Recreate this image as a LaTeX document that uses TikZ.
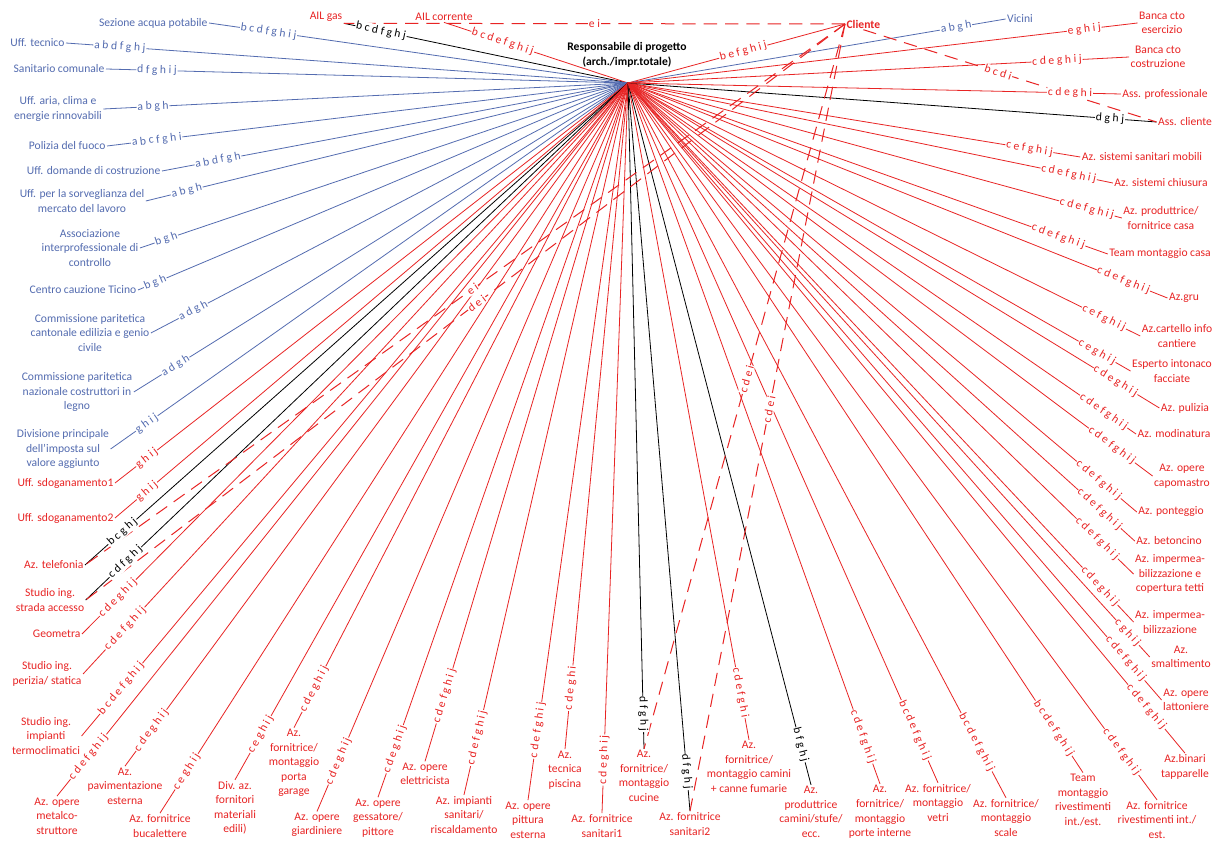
\documentclass[tikz,border=0pt]{standalone}
\usepackage{fontspec}
\setmainfont{Carlito}
\usetikzlibrary{calc}
\pgfdeclarelayer{back}
\pgfdeclarelayer{bg}
\pgfsetlayers{back,bg,main}
\definecolor{cred}{RGB}{232,36,36}
\definecolor{cblue}{RGB}{84,108,176}
\newcommand\fs{\fontsize{8.7}{10.9}\selectfont}
% #1 colour, #2 end point, #3 label, #4 label centre (projected on the line)
\newcommand\lnk[4]{%
  \begin{pgfonlayer}{bg}\draw[ln,draw=#1] (H) -- (#2);\end{pgfonlayer}
  \path ($(#2)!#4!(H)$) -- (#2) node[lbl,text=#1,pos=0,sloped]{#3};}
% dashed: #1 from, #2 to, #3 label, #4 pos
\newcommand\dlnk[4]{%
  \begin{pgfonlayer}{bg}\draw[dln] (#1) -- (#2);\end{pgfonlayer}
  \path (#1) -- (#2) node[lbl,text=cred,pos=#4,sloped]{#3};}
\begin{document}
\begin{tikzpicture}[x=0.75pt,y=-0.75pt,
  ln/.style={line width=0.6pt},
  dln/.style={draw=cred,line width=0.75pt,dash pattern=on 10pt off 6pt},
  lbl/.style={font=\fs,fill=white,inner sep=0.6pt},
  tb/.style={font=\fs,text=cblue,align=center,inner sep=1pt},
  tr/.style={font=\fs,text=cred,align=center,inner sep=1pt}]
\useasboundingbox (0,0) rectangle (1222,841);
\begin{pgfonlayer}{back}\fill[white] (0,0) rectangle (1222,841);\end{pgfonlayer}

\coordinate (H) at (628,83);
\node[font=\fs\bfseries,align=center,inner sep=1pt] (resp) at (627,55) {Responsabile di progetto\\(arch./impr.totale)};

% top
\node[tr] (ailgas) at (326,17) {AIL gas};
\node[tr] (ailcorr) at (444,17) {AIL corrente};
\node[tr,font=\fs\bfseries,anchor=west] (cliente) at (845,24) {Cliente};

% left blue
\node[tb,anchor=east] (sez) at (209,23) {Sezione acqua potabile};
\node[tb,anchor=east] (tec) at (66,43) {Uff. tecnico};
\node[tb,anchor=east] (san) at (106,69) {Sanitario comunale};
\node[tb] (aria) at (58,109) {Uff. aria, clima e\\energie rinnovabili};
\node[tb,anchor=east] (pol) at (107,146) {Polizia del fuoco};
\node[tb,anchor=east] (dom) at (162,171) {Uff. domande di costruzione};
\node[tb] (sorv) at (82,201) {Uff. per la sorveglianza del\\mercato del lavoro};
\node[tb] (assoc) at (90,248) {Associazione\\interprofessionale di\\controllo};
\node[tb,anchor=east] (centro) at (138,290) {Centro cauzione Ticino};
\node[tb] (ccant) at (90,333) {Commissione paritetica\\cantonale edilizia e genio\\civile};
\node[tb] (cnaz) at (77,392) {Commissione paritetica\\nazionale costruttori in\\legno};
\node[tb] (iva) at (63,449) {Divisione principale\\dell’imposta sul\\valore aggiunto};

% left red
\node[tr,anchor=east] (sd1) at (115,483) {Uff. sdoganamento1};
\node[tr,anchor=east] (sd2) at (115,518) {Uff. sdoganamento2};
\node[tr,anchor=east] (tel) at (85,565) {Az. telefonia};
\node[tr] (strada) at (50,600) {Studio ing.\\strada accesso};
\node[tr,anchor=east] (geo) at (82,634) {Geometra};
\node[tr] (perizia) at (47,674) {Studio ing.\\perizia/ statica};
\node[tr] (impianti) at (46,736) {Studio ing.\\impianti\\termoclimatici};

% bottom
\node[tr] (metalco) at (57,816) {Az. opere\\metalco-\\struttore};
\node[tr] (pavim) at (125,786) {Az.\\pavimentazione\\esterna};
\node[tr] (bucal) at (160,826) {Az. fornitrice\\bucalettere};
\node[tr] (divaz) at (235,808) {Div. az.\\fornitori\\materiali\\edili)};
\node[tr] (garage) at (294,763) {Az.\\fornitrice/\\montaggio\\porta\\garage};
\node[tr] (giard) at (317,825) {Az. opere\\giardiniere};
\node[tr] (gessa) at (378,818) {Az. opere\\gessatore/\\pittore};
\node[tr] (elettr) at (425,774) {Az. opere\\elettricista};
\node[tr] (idro) at (464,815) {Az. impianti\\sanitari/\\riscaldamento};
\node[tr] (pittura) at (528,820) {Az. opere\\pittura\\esterna};
\node[tr] (piscina) at (565,770) {Az.\\tecnica\\piscina};
\node[tr] (san1) at (602,826) {Az. fornitrice\\sanitari1};
\node[tr] (cucine) at (644,776) {Az.\\fornitrice/\\montaggio\\cucine};
\node[tr] (san2) at (690,824) {Az. fornitrice\\sanitari2};
\node[tr] (camini) at (749,767) {Az.\\fornitrice/\\montaggio camini\\+ canne fumarie};
\node[tr] (stufe) at (811,812) {Az.\\produttrice\\camini/stufe/\\ecc.};
\node[tr] (porte) at (880,812) {Az.\\fornitrice/\\montaggio\\porte interne};
\node[tr] (vetri) at (938,803) {Az. fornitrice/\\montaggio\\vetri};
\node[tr] (scale) at (1006,818) {Az. fornitrice/\\montaggio\\scale};
\node[tr] (team2) at (1083,800) {Team\\montaggio\\rivestimenti\\int./est.};
\node[tr] (rivest) at (1157,820) {Az. fornitrice\\rivestimenti int./\\est.};

% right
\node[tr] (binari) at (1185,767) {Az.binari\\tapparelle};
\node[tr] (latton) at (1186,700) {Az. opere\\lattoniere};
\node[tr] (smalt) at (1181,657) {Az.\\smaltimento};
\node[tr] (imp2) at (1170,622) {Az. impermea-\\bilizzazione};
\node[tr] (imp1) at (1170,574) {Az. impermea-\\bilizzazione e\\copertura tetti};
\node[tr] (beton) at (1169,541) {Az. betoncino};
\node[tr] (ponteg) at (1171,512) {Az. ponteggio};
\node[tr] (capom) at (1182,476) {Az. opere\\capomastro};
\node[tr] (modin) at (1174,434) {Az. modinatura};
\node[tr] (puliz) at (1185,408) {Az. pulizia};
\node[tr] (esperto) at (1172,371) {Esperto intonaco\\facciate};
\node[tr] (cartello) at (1177,336) {Az.cartello info\\cantiere};
\node[tr] (gru) at (1184,298) {Az.gru};
\node[tr] (teamcasa) at (1160,254) {Team montaggio casa};
\node[tr] (prodcasa) at (1161,218) {Az. produttrice/\\fornitrice casa};
\node[tr] (chius) at (1161,183) {Az. sistemi chiusura};
\node[tr] (mobili) at (1142,157) {Az. sistemi sanitari mobili};
\node[tr] (asscl) at (1185,122) {Ass. cliente};
\node[tr] (assprof) at (1165,94) {Ass. professionale};
\node[tr] (bancost) at (1158,57) {Banca cto\\costruzione};
\node[tr] (bancesc) at (1162,23) {Banca cto\\esercizio};
\node[tb] (vicini) at (1020,19) {Vicini};

% connectors from the hub
\lnk{black}{ailgas.south east}{b c d f g h j}{(380,36)}
\lnk{cred}{ailcorr.south}{b c d e f g h i j}{(502,44)}
\lnk{cred}{cliente.west}{b e f g h i j}{(745,58)}

\lnk{cblue}{sez.east}{b c d f g h i j}{(269,28)}
\lnk{cblue}{tec.east}{a b d f g h j}{(120,45)}
\lnk{cblue}{san.east}{d f g h i j}{(157,70)}
\lnk{cblue}{aria.east}{a b g h}{(153,106)}
\lnk{cblue}{pol.east}{a b c f g h i}{(157,142)}
\lnk{cblue}{dom.east}{a b d f g h}{(219,166)}
\lnk{cblue}{sorv.east}{a b g h}{(187,192)}
\lnk{cblue}{assoc.east}{b g h}{(168,244)}
\lnk{cblue}{centro.east}{b g h}{(157,287)}
\lnk{cblue}{ccant.east}{a d g h}{(197,318)}
\lnk{cblue}{cnaz.east}{a d g h}{(180,373)}
\lnk{cblue}{iva.east}{g h i j}{(150,428)}
\lnk{cblue}{vicini.west}{a b g h}{(956,27)}

\lnk{cred}{sd1.east}{g h i j}{(152,465)}
\lnk{cred}{sd2.east}{g h i j}{(152,497)}
\lnk{black}{tel.east}{b c g h j}{(127,537)}
\lnk{black}{strada.east}{c d f g h j}{(128,565)}
\lnk{cred}{geo.east}{c d e g h i j}{(127,607)}
\lnk{cred}{perizia.east}{c d e f g h i j}{(130,633)}
\lnk{cred}{impianti.east}{b c d e f g h i j}{(123,690)}

\lnk{cred}{metalco.north}{c d e f g h i j}{(90,758)}
\lnk{cred}{pavim.north}{c d e g h i j}{(155,733)}
\lnk{cred}{bucal.north}{c e g h i j}{(181,768)}
\lnk{cred}{divaz.north}{c e g h i j}{(258,733)}
\lnk{cred}{garage.north}{c d e g h i j}{(310,687)}
\lnk{cred}{giard.north}{c d e g h i j}{(336,760)}
\lnk{cred}{gessa.north}{c d e g h i j}{(397,750)}
\lnk{cred}{elettr.north}{c d e f g h i j}{(441,695)}
\lnk{cred}{idro.north}{c d e f g h i j}{(477,738)}
\lnk{cred}{pittura.north}{c d e f g h i j}{(535,730)}
\lnk{cred}{piscina.north}{c d e g h i}{(569,688)}
\lnk{cred}{san1.north}{c d e g h i j}{(603,760)}
\lnk{black}{cucine.north}{d f g h j}{(644,714)}
\lnk{black}{san2.north}{d f g h j}{(685,772)}
\lnk{cred}{camini.north}{c d e f g h i}{(738,693)}
\lnk{black}{stufe.north}{b f g h j}{(800,745)}
\lnk{cred}{porte.north}{c d e f g h i j}{(862,737)}
\lnk{cred}{vetri.north}{b c d e f g h i j}{(920,728)}
\lnk{cred}{scale.north}{b c d e f g h i j}{(977,742)}
\lnk{cred}{team2.north}{b c d e f g h i j}{(1048,732)}
\lnk{cred}{rivest.north}{c d e f g h i j}{(1120,753)}

\lnk{cred}{binari.north}{c d e f g h i j}{(1151,703)}
\lnk{cred}{latton.west}{c d e f g h i j}{(1122,662)}
\lnk{cred}{smalt.west}{c g h i j}{(1125,635)}
\lnk{cred}{imp2.west}{c d e g h i j}{(1098,588)}
\lnk{cred}{imp1.west}{c d e f g h i j}{(1093,543)}
\lnk{cred}{beton.west}{c d e f g h i j}{(1097,512)}
\lnk{cred}{ponteg.west}{c d e f g h i j}{(1097,482)}
\lnk{cred}{capom.west}{c d e f g h i j}{(1110,448)}
\lnk{cred}{modin.west}{c d e f g h i j}{(1100,417)}
\lnk{cred}{puliz.west}{c d e g h i j}{(1112,387)}
\lnk{cred}{esperto.west}{c e g h i j}{(1097,352)}
\lnk{cred}{cartello.west}{c e f g h i j}{(1103,320)}
\lnk{cred}{gru.west}{c d e f g h i j}{(1122,284)}
\lnk{cred}{teamcasa.west}{c d e f g h i j}{(1057,240)}
\lnk{cred}{prodcasa.west}{c d e f g h i j}{(1087,208)}
\lnk{cred}{chius.west}{c d e f g h i j}{(1068,177)}
\lnk{cred}{mobili.west}{c e f g h i j}{(1030,145)}
\lnk{black}{asscl.west}{d g h j}{(1110,117)}
\lnk{cred}{assprof.west}{c d e g h i}{(1070,93)}
\lnk{cred}{bancost.west}{c d e g h i j}{(1057,60)}
\lnk{cred}{bancesc.west}{e g h i j}{(1084,28)}

% dashed connectors from Cliente
\dlnk{cliente.west}{ailgas.south east}{e i}{0.5}
\dlnk{cliente.south}{asscl.west}{b c d i}{0.46}
\dlnk{cliente.west}{tel.east}{e i}{0.49}
\dlnk{cliente.west}{strada.east}{d e i}{0.485}
\dlnk{cliente.west}{cucine.north}{c d e i}{0.49}
\dlnk{cliente.west}{san2.north}{c d e i}{0.49}
\end{tikzpicture}
\end{document}
